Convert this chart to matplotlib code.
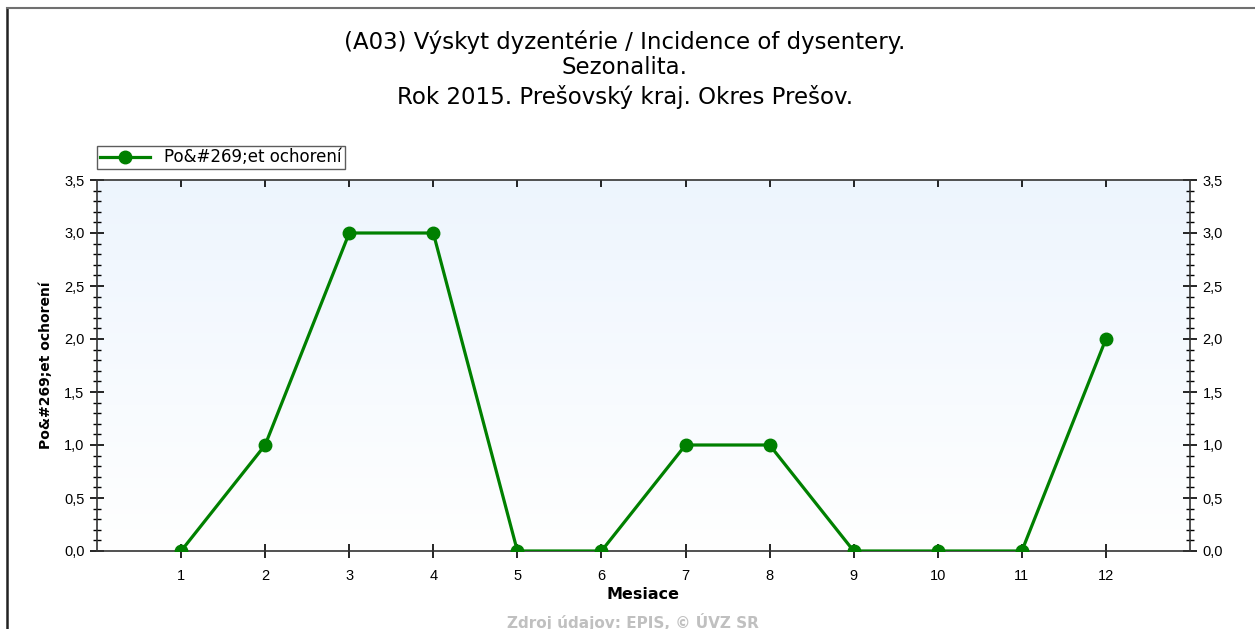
import numpy as np
import matplotlib
matplotlib.use("Agg")
import matplotlib.pyplot as plt
from matplotlib.ticker import MultipleLocator, FuncFormatter
from matplotlib.lines import Line2D
from matplotlib import markers

months = [1, 2, 3, 4, 5, 6, 7, 8, 9, 10, 11, 12]
cases = [0, 1, 3, 3, 0, 0, 1, 1, 0, 0, 0, 2]
series_name = "Po&#269;et ochorení"

plt.rcParams['font.family'] = ['Liberation Sans', 'DejaVu Sans']

fig = plt.figure(figsize=(12.55, 6.29), dpi=100)
ax = fig.add_axes([97 / 1255, 1 - 551 / 629, (1190 - 97) / 1255, (551 - 180) / 629])

# background gradient, light blue at top to white at bottom
grad = np.linspace(0, 1, 256).reshape(-1, 1)
top = np.array([0.93, 0.96, 0.995])
bot = np.array([1.0, 1.0, 1.0])
img = top * (1 - grad[..., None]) + bot * grad[..., None]
img = img.reshape(256, 1, 3)
ax.imshow(img, extent=[0, 1, 0, 1], transform=ax.transAxes, aspect="auto", zorder=0)

ax.plot(months, cases, color="#008000", linewidth=2.3, marker="o", markersize=9,
        label=series_name, zorder=3, clip_on=True)

ax.set_xlim(0, 13)
ax.set_ylim(0, 3.5)
ax.set_xticks(months)
ax.yaxis.set_major_locator(MultipleLocator(0.5))
ax.yaxis.set_minor_locator(MultipleLocator(0.1))
ax.yaxis.set_major_formatter(FuncFormatter(lambda v, p: f"{v:.1f}".replace(".", ",")))

for s in ax.spines.values():
    s.set_color("#333333")
    s.set_linewidth(1.2)

ax.tick_params(axis="y", which="major", direction="inout", length=10, width=1.2,
               labelsize=10.5, pad=4, right=True, labelright=True)
ax.tick_params(axis="y", which="minor", direction="inout", length=6, width=1.0, right=True)
ax.tick_params(axis="x", which="major", direction="inout", length=10, width=1.2,
               labelsize=10.5, pad=8, top=True, bottom=True)

# top ticks only point inward
for t in ax.xaxis.get_major_ticks():
    t.tick2line.set_marker(markers.TICKDOWN)
    t.tick2line.set_markersize(5)

ax.set_xlabel("Mesiace", fontsize=11.5, fontweight="bold", labelpad=3, family="DejaVu Sans")
ax.set_ylabel(series_name, fontsize=10, fontweight="bold", labelpad=8, family="DejaVu Sans")

leg = ax.legend(loc="lower left", bbox_to_anchor=(0.0, 1.03), frameon=True,
                prop={"family": "DejaVu Sans", "size": 12},
                fancybox=False, borderpad=0.15, handlelength=3.0, handletextpad=0.9,
                borderaxespad=0)
leg.get_frame().set_edgecolor("#333333")
leg.get_frame().set_linewidth(1.0)

fig.text(0.498, 1 - 42 / 629, "(A03) Výskyt dyzentérie / Incidence of dysentery.",
         ha="center", va="center", fontsize=16.5, family="DejaVu Sans")
fig.text(0.498, 1 - 68 / 629, "Sezonalita.", ha="center", va="center", fontsize=16.5,
         family="DejaVu Sans")
fig.text(0.498, 1 - 97 / 629, "Rok 2015. Prešovský kraj. Okres Prešov.",
         ha="center", va="center", fontsize=16.5, family="DejaVu Sans")
fig.text(0.504, 1 - 622 / 629, "Zdroj údajov: EPIS, © ÚVZ SR", ha="center", va="center",
         fontsize=11, fontweight="bold", color="#c0c0c0", family="DejaVu Sans")

# outer frame (top and left visible)
fig.add_artist(Line2D([7 / 1255, 7 / 1255], [0, 1 - 8 / 629], transform=fig.transFigure,
                      color="#222222", linewidth=1.8))
fig.add_artist(Line2D([7 / 1255, 1], [1 - 8 / 629, 1 - 8 / 629], transform=fig.transFigure,
                      color="#707070", linewidth=1.5))

fig.savefig("out.png", dpi=100)
